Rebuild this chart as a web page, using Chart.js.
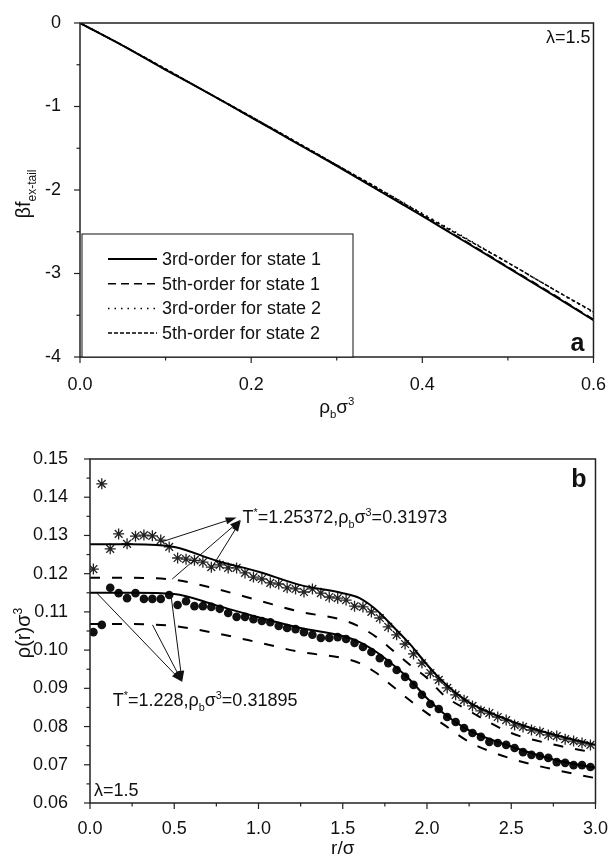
<!DOCTYPE html>
<html>
<head>
<meta charset="utf-8">
<script src="https://cdn.jsdelivr.net/npm/chart.js@4.4.0/dist/chart.umd.min.js"></script>
<style>
  body { margin: 0; background: #fff; }
  #wrap { position: relative; width: 615px; height: 862px; }
  canvas { position: absolute; left: 0; }
</style>
</head>
<body>
<div id="wrap">
  <canvas id="chartA" width="615" height="430" style="top:0"></canvas>
  <canvas id="chartB" width="615" height="432" style="top:430px"></canvas>
</div>
<script>
// ---- panel a: free energy tail vs bulk density ----
const rho = [0, 0.05, 0.1, 0.15, 0.2, 0.25, 0.3, 0.35, 0.4, 0.45, 0.5, 0.55, 0.6];
const third1 = [0, -0.27, -0.56, -0.84, -1.13, -1.42, -1.71, -2.01, -2.31, -2.62, -2.93, -3.24, -3.56];
const fifth1 = [0, -0.27, -0.56, -0.84, -1.13, -1.42, -1.71, -2.01, -2.31, -2.61, -2.92, -3.23, -3.55];
const third2 = [0, -0.27, -0.55, -0.84, -1.12, -1.41, -1.70, -1.99, -2.28, -2.57, -2.87, -3.17, -3.47];
const fifth2 = [0, -0.27, -0.55, -0.84, -1.12, -1.41, -1.70, -1.99, -2.29, -2.58, -2.87, -3.17, -3.46];

// ---- panel b: density profiles ----
const rCurve = [0, 0.25, 0.5, 0.75, 1.0, 1.25, 1.5, 1.6, 1.7, 1.8, 1.9, 2.0, 2.1, 2.25, 2.5, 2.75, 3.0];
const solid1 = [0.1277, 0.1277, 0.1270, 0.1234, 0.1205, 0.1170, 0.1149, 0.1136, 0.1105, 0.1061, 0.1015, 0.0962, 0.0915, 0.0863, 0.0814, 0.0779, 0.0752];
const dash1  = [0.1189, 0.1189, 0.1184, 0.1160, 0.1130, 0.1100, 0.1079, 0.1061, 0.1034, 0.0998, 0.0961, 0.0927, 0.0882, 0.0841, 0.0783, 0.0753, 0.0731];
const solid2 = [0.1150, 0.1150, 0.1147, 0.1117, 0.1086, 0.1058, 0.1037, 0.1021, 0.0995, 0.0961, 0.0922, 0.0874, 0.0834, 0.0790, 0.0748, 0.0714, 0.0692];
const dash2  = [0.1068, 0.1068, 0.1063, 0.1044, 0.1020, 0.0995, 0.0979, 0.0966, 0.0940, 0.0904, 0.0868, 0.0835, 0.0805, 0.0760, 0.0716, 0.0688, 0.0665];

const rMarks = [0.02, 0.07, 0.12, 0.17, 0.22, 0.27, 0.32, 0.37, 0.42, 0.47, 0.52, 0.57, 0.62, 0.67, 0.72, 0.77, 0.82, 0.87, 0.92, 0.97,
  1.02, 1.07, 1.12, 1.17, 1.22, 1.27, 1.32, 1.37, 1.42, 1.47, 1.52, 1.57, 1.62, 1.67, 1.72, 1.77, 1.82, 1.87, 1.92, 1.97,
  2.02, 2.07, 2.12, 2.17, 2.22, 2.27, 2.32, 2.37, 2.42, 2.47, 2.52, 2.57, 2.62, 2.67, 2.72, 2.77, 2.82, 2.87, 2.92, 2.97];
const stars = [0.1212, 0.1435, 0.1265, 0.1304, 0.1278, 0.1298, 0.1301, 0.1299, 0.1288, 0.1270, 0.1241, 0.1238, 0.1235, 0.1230, 0.1217, 0.1223, 0.1215, 0.1215, 0.1202, 0.1191,
  0.1186, 0.1176, 0.1173, 0.1163, 0.1160, 0.1152, 0.1160, 0.1149, 0.1139, 0.1136, 0.1131, 0.1115, 0.1113, 0.1100, 0.1084, 0.1061, 0.1040, 0.1016, 0.0990, 0.0966,
  0.0940, 0.0922, 0.0901, 0.0883, 0.0869, 0.0854, 0.0841, 0.0835, 0.0825, 0.0817, 0.0804, 0.0799, 0.0791, 0.0786, 0.0778, 0.0775, 0.0767, 0.0762, 0.0757, 0.0752];
const dots = [0.1047, 0.1066, 0.1163, 0.1149, 0.1136, 0.1149, 0.1134, 0.1134, 0.1134, 0.1144, 0.1118, 0.1128, 0.1115, 0.1115, 0.1113, 0.1108, 0.1097, 0.1087, 0.1087, 0.1081,
  0.1076, 0.1073, 0.1063, 0.1058, 0.1055, 0.1047, 0.1040, 0.1032, 0.1032, 0.1034, 0.1029, 0.1019, 0.1008, 0.0995, 0.0979, 0.0966, 0.0948, 0.0930, 0.0909, 0.0883,
  0.0859, 0.0846, 0.0825, 0.0812, 0.0796, 0.0783, 0.0773, 0.0760, 0.0757, 0.0752, 0.0744, 0.0733, 0.0726, 0.0723, 0.0718, 0.0707, 0.0705, 0.0699, 0.0699, 0.0694];

// arrows in data coords: [fromR, fromV, toR, toV]
const arrowsUp = [[0.424, 0.1283, 0.87, 0.1347], [0.488, 0.1186, 0.895, 0.1341], [0.724, 0.1217, 0.895, 0.1339]];
const arrowsLow = [[0.041, 0.1149, 0.547, 0.0917], [0.371, 0.1066, 0.547, 0.0917], [0.482, 0.1139, 0.547, 0.0917]];

const FONT = '"Liberation Sans", Arial, Helvetica, sans-serif';
const pts = (xs, ys) => xs.map((x, i) => ({ x: x, y: ys[i] }));

function rich(ctx, parts, x, y, size, align) {
  let w = 0;
  parts.forEach(p => { ctx.font = (p[1] ? size * 0.6 : size) + 'px ' + FONT; w += ctx.measureText(p[0]).width; });
  let cx = align === 'center' ? x - w / 2 : (align === 'right' ? x - w : x);
  ctx.textAlign = 'left';
  ctx.textBaseline = 'alphabetic';
  parts.forEach(p => {
    const s = p[1] ? size * 0.6 : size;
    ctx.font = s + 'px ' + FONT;
    const dy = p[1] === 'sup' ? -size * 0.42 : (p[1] === 'sub' ? size * 0.28 : 0);
    ctx.fillText(p[0], cx, y + dy);
    cx += ctx.measureText(p[0]).width;
  });
}

// box around plot + outward major/minor ticks
const frame = {
  id: 'frame',
  afterDraw(chart) {
    const ctx = chart.ctx, a = chart.chartArea;
    ctx.save();
    ctx.strokeStyle = '#222';
    ctx.lineWidth = 1.5;
    ctx.strokeRect(a.left, a.top, a.right - a.left, a.bottom - a.top);
    ctx.lineWidth = 1.2;
    const sx = chart.scales.x, sy = chart.scales.y;
    sx.ticks.forEach(t => {
      const p = sx.getPixelForValue(t.value);
      const len = t.label !== '' ? 6 : 3.5;
      ctx.beginPath(); ctx.moveTo(p, a.bottom); ctx.lineTo(p, a.bottom + len); ctx.stroke();
    });
    sy.ticks.forEach(t => {
      const p = sy.getPixelForValue(t.value);
      const len = t.label !== '' ? 6 : 3.5;
      ctx.beginPath(); ctx.moveTo(a.left, p); ctx.lineTo(a.left - len, p); ctx.stroke();
    });
    ctx.restore();
  }
};

const tickFont = { family: FONT, size: 18 };

// ---------- chart a ----------
const legendA = {
  id: 'legendA',
  afterDraw(chart) {
    const ctx = chart.ctx, a = chart.chartArea;
    ctx.save();
    ctx.fillStyle = '#fff';
    ctx.strokeStyle = '#111';
    ctx.lineWidth = 1;
    const bx = a.left + 2, by = a.top + 211;
    ctx.fillRect(bx, by, 271, a.bottom - by);
    ctx.strokeRect(bx, by, 271, a.bottom - by);
    chart.data.datasets.forEach((ds, i) => {
      const y = by + 25 + i * 24.7;
      ctx.strokeStyle = '#000';
      ctx.lineWidth = ds.borderWidth;
      ctx.setLineDash(ds.borderDash || []);
      ctx.beginPath(); ctx.moveTo(bx + 26, y); ctx.lineTo(bx + 75, y); ctx.stroke();
      ctx.setLineDash([]);
      ctx.fillStyle = '#111';
      ctx.font = '18px ' + FONT;
      ctx.textBaseline = 'middle';
      ctx.textAlign = 'left';
      ctx.fillText(ds.label, bx + 80, y + 1);
    });
    // labels in the corners
    ctx.fillStyle = '#111';
    rich(ctx, [['λ', ''], ['=1.5', '']], a.right - 3, a.top + 20, 18, 'right');
    ctx.font = 'bold 25px ' + FONT;
    ctx.textAlign = 'right';
    ctx.textBaseline = 'alphabetic';
    ctx.fillText('a', a.right - 9, a.bottom - 6);
    // axis titles
    rich(ctx, [['ρ', ''], ['b', 'sub'], ['σ', ''], ['3', 'sup']], (a.left + a.right) / 2, 413, 19, 'center');
    ctx.save();
    ctx.translate(30, (a.top + a.bottom) / 2 + 4);
    ctx.rotate(-Math.PI / 2);
    rich(ctx, [['βf', ''], ['ex-tail', 'sub']], 0, 0, 20, 'center');
    ctx.restore();
    ctx.restore();
  }
};

new Chart(document.getElementById('chartA'), {
  type: 'line',
  data: {
    datasets: [
      { label: '3rd-order for state 1', data: pts(rho, third1), borderColor: '#000', borderWidth: 2, borderDash: [] },
      { label: '5th-order for state 1', data: pts(rho, fifth1), borderColor: '#000', borderWidth: 1.5, borderDash: [8, 5] },
      { label: '3rd-order for state 2', data: pts(rho, third2), borderColor: '#000', borderWidth: 1.5, borderDash: [1.5, 5] },
      { label: '5th-order for state 2', data: pts(rho, fifth2), borderColor: '#000', borderWidth: 1.5, borderDash: [4, 2] }
    ]
  },
  options: {
    responsive: false,
    animation: false,
    devicePixelRatio: 1,
    layout: { padding: { left: 0, right: 15, top: 23, bottom: 0 } },
    elements: { point: { radius: 0 }, line: { tension: 0.3 } },
    plugins: { legend: { display: false }, tooltip: { enabled: false } },
    scales: {
      x: {
        type: 'linear', min: 0, max: 0.6,
        afterFit: s => { s.height = 73; },
        grid: { display: false }, border: { display: false },
        ticks: {
          stepSize: 0.1, autoSkip: false, maxRotation: 0, padding: 9, color: '#111', font: tickFont,
          callback: v => (Math.round(v * 10) % 2 === 0 ? v.toFixed(1) : '')
        }
      },
      y: {
        type: 'linear', min: -4, max: 0,
        afterFit: s => { s.width = 80; },
        grid: { display: false }, border: { display: false },
        ticks: {
          stepSize: 0.5, autoSkip: false, padding: 11, color: '#111', font: tickFont,
          callback: v => (Math.abs(v - Math.round(v)) < 1e-6 ? String(Math.round(v)) : '')
        }
      }
    }
  },
  plugins: [frame, legendA]
});

// ---------- chart b ----------
function arrow(ctx, x1, y1, x2, y2) {
  const ang = Math.atan2(y2 - y1, x2 - x1);
  const L = 11, W = 3.5;
  const bx = x2 - L * Math.cos(ang), by = y2 - L * Math.sin(ang);
  ctx.beginPath(); ctx.moveTo(x1, y1); ctx.lineTo(bx, by); ctx.stroke();
  ctx.beginPath();
  ctx.moveTo(x2, y2);
  ctx.lineTo(bx + W * Math.sin(ang), by - W * Math.cos(ang));
  ctx.lineTo(bx - W * Math.sin(ang), by + W * Math.cos(ang));
  ctx.closePath(); ctx.fill();
}

const notesB = {
  id: 'notesB',
  afterDraw(chart) {
    const ctx = chart.ctx, a = chart.chartArea;
    const sx = chart.scales.x, sy = chart.scales.y;
    ctx.save();
    ctx.strokeStyle = '#111';
    ctx.fillStyle = '#111';
    ctx.lineWidth = 1;
    arrowsUp.concat(arrowsLow).forEach(r => {
      arrow(ctx, sx.getPixelForValue(r[0]), sy.getPixelForValue(r[1]), sx.getPixelForValue(r[2]), sy.getPixelForValue(r[3]));
    });
    rich(ctx, [['T', ''], ['*', 'sup'], ['=1.25372,', ''], ['ρ', ''], ['b', 'sub'], ['σ', ''], ['3', 'sup'], ['=0.31973', '']],
      sx.getPixelForValue(0.905), sy.getPixelForValue(0.1332), 18, 'left');
    rich(ctx, [['T', ''], ['*', 'sup'], ['=1.228,', ''], ['ρ', ''], ['b', 'sub'], ['σ', ''], ['3', 'sup'], ['=0.31895', '']],
      sx.getPixelForValue(0.135), sy.getPixelForValue(0.0853), 18, 'left');
    rich(ctx, [['λ', ''], ['=1.5', '']], a.left + 4, a.bottom - 7, 18, 'left');
    ctx.font = 'bold 25px ' + FONT;
    ctx.textAlign = 'right';
    ctx.textBaseline = 'alphabetic';
    ctx.fillText('b', a.right - 9, a.top + 28);
    rich(ctx, [['r/σ', '']], (a.left + a.right) / 2, 424, 19, 'center');
    ctx.save();
    ctx.translate(30, (a.top + a.bottom) / 2 + 2);
    ctx.rotate(-Math.PI / 2);
    rich(ctx, [['ρ(r)σ', ''], ['3', 'sup']], 0, 0, 20, 'center');
    ctx.restore();
    ctx.restore();
  }
};

new Chart(document.getElementById('chartB'), {
  type: 'line',
  data: {
    datasets: [
      { data: pts(rCurve, solid1), borderColor: '#000', borderWidth: 2, pointRadius: 0, cubicInterpolationMode: 'monotone' },
      { data: pts(rCurve, dash1), borderColor: '#000', borderWidth: 2, borderDash: [10, 12], pointRadius: 0, cubicInterpolationMode: 'monotone' },
      { data: pts(rCurve, solid2), borderColor: '#000', borderWidth: 2, pointRadius: 0, cubicInterpolationMode: 'monotone' },
      { data: pts(rCurve, dash2), borderColor: '#000', borderWidth: 2, borderDash: [10, 12], pointRadius: 0, cubicInterpolationMode: 'monotone' },
      { data: pts(rMarks, stars), showLine: false, pointStyle: 'star', pointRadius: 5.5, borderColor: '#222', borderWidth: 1.3, backgroundColor: '#222' },
      { data: pts(rMarks, dots), showLine: false, pointStyle: 'circle', pointRadius: 4.3, borderColor: '#111', borderWidth: 0, backgroundColor: '#111' }
    ]
  },
  options: {
    responsive: false,
    animation: false,
    devicePixelRatio: 1,
    layout: { padding: { left: 0, right: 15, top: 29, bottom: 0 } },
    plugins: { legend: { display: false }, tooltip: { enabled: false } },
    scales: {
      x: {
        type: 'linear', min: 0, max: 3,
        afterFit: s => { s.height = 59; },
        grid: { display: false }, border: { display: false },
        ticks: {
          stepSize: 0.25, autoSkip: false, maxRotation: 0, padding: 7, color: '#111', font: tickFont,
          callback: v => (Math.round(v * 100) % 50 === 0 ? v.toFixed(1) : '')
        }
      },
      y: {
        type: 'linear', min: 0.06, max: 0.15,
        afterFit: s => { s.width = 90; },
        grid: { display: false }, border: { display: false },
        ticks: {
          stepSize: 0.005, autoSkip: false, padding: 14, color: '#111', font: tickFont,
          callback: v => (Math.round(v * 1000) % 10 === 0 ? v.toFixed(2) : '')
        }
      }
    }
  },
  plugins: [frame, notesB]
});
</script>
</body>
</html>
